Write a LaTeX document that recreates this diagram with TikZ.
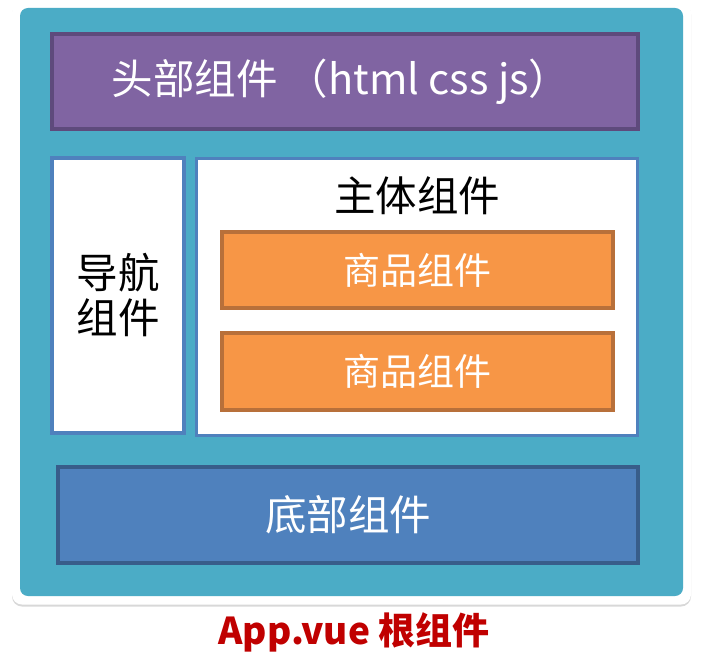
\documentclass[tikz,border=0pt]{standalone}
\usepackage{fontspec}
\setmainfont{Noto Sans CJK SC}
\usetikzlibrary{shadows}
\definecolor{teal1}{HTML}{4BACC6}
\definecolor{purp}{HTML}{8064A2}
\definecolor{purpd}{HTML}{5E4A7C}
\definecolor{blu}{HTML}{4F81BD}
\definecolor{blud}{HTML}{385D8A}
\definecolor{orng}{HTML}{F79646}
\definecolor{orngd}{HTML}{B8703A}
\definecolor{redd}{HTML}{C00000}
\begin{document}
\begin{tikzpicture}[x=1pt,y=-1pt,
  box/.style={rectangle,inner sep=0pt,line width=3.5pt},
  big/.style={font=\fontsize{41.5pt}{48pt}\selectfont},
  mid/.style={font=\fontsize{37pt}{44pt}\selectfont}]
\useasboundingbox (0,0) rectangle (714,660);
\fill[white] (0,0) rectangle (714,660);
\node[box,fill=white,rounded corners=10pt,minimum width=679pt,minimum height=602pt,
  drop shadow={shadow xshift=0pt,shadow yshift=-2pt,opacity=0.3,fill=gray}] (outer) at (351.5,303.5) {};
\node[box,fill=teal1,rounded corners=8pt,minimum width=663pt,minimum height=588pt] (app) at (351.5,302) {};
\node[box,draw=purpd,fill=purp,minimum width=586pt,minimum height=95pt] (head) at (345,81.5) {};
\node[text=white,big,inner sep=0pt] (headtext) at (341,81.5) {头部组件\ （html css js）};
\node[box,draw=blu,fill=white,minimum width=132pt,minimum height=275pt,big,align=center] (nav) at (118,295.5) {导航\\[-3pt]组件};
\node[box,draw=blu,fill=white,minimum width=441pt,minimum height=277pt] (main) at (417,297) {};
\node[big,inner sep=0pt] (maintitle) at (417,196) {主体组件};
\node[box,draw=orngd,fill=orng,minimum width=391pt,minimum height=76pt,text=white,mid] (prod1) at (417.5,270) {商品组件};
\node[box,draw=orngd,fill=orng,minimum width=391pt,minimum height=77pt,text=white,mid] (prod2) at (417.5,371.5) {商品组件};
\node[box,draw=blud,fill=blu,minimum width=580pt,minimum height=96pt,text=white,big] (foot) at (348,515) {底部组件};
\node[text=redd,font=\fontsize{37pt}{42pt}\selectfont\bfseries] (label) at (354,632) {App.vue 根组件};
\end{tikzpicture}
\end{document}
